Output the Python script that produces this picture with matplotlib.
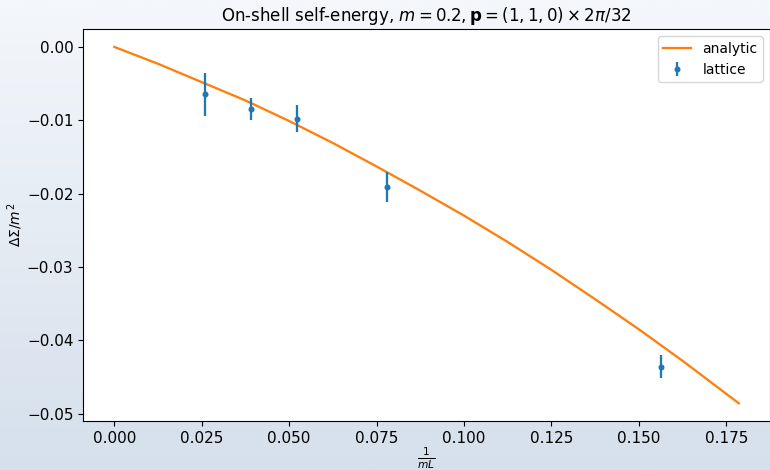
import numpy as np
import matplotlib
matplotlib.use('Agg')
import matplotlib.pyplot as plt
from matplotlib.colors import LinearSegmentedColormap

# lattice data, x = 1/(mL)
x_lat = [0.0260, 0.0391, 0.0521, 0.0781, 0.1563]
y_lat = [-0.00645, -0.00845, -0.00976, -0.0191, -0.0436]
err_lat = [0.0029, 0.0015, 0.0018, 0.0021, 0.0016]

# analytic curve
x_an = [0.0, 0.0125, 0.025, 0.0375, 0.05, 0.0625, 0.075, 0.0875, 0.1,
        0.1125, 0.125, 0.1375, 0.15, 0.1625, 0.1786]
y_an = [0.0, -0.0023, -0.0048, -0.0073, -0.0101, -0.0131, -0.0163,
        -0.0196, -0.0230, -0.0266, -0.0304, -0.0344, -0.0385, -0.0428, -0.0486]

plt.rcParams['font.size'] = 11
plt.rcParams['lines.linewidth'] = 1.65
plt.rcParams['lines.markersize'] = 6.6

fig = plt.figure(figsize=(7.7, 4.7), dpi=100)

# gradient background
bg = fig.add_axes([0, 0, 1, 1], zorder=-10)
cmap = LinearSegmentedColormap.from_list('bg', ['#f4f7fb', '#d5e0ec'])
bg.imshow(np.linspace(0, 1, 256).reshape(-1, 1), aspect='auto', cmap=cmap,
          extent=[0, 1, 0, 1])
bg.axis('off')

ax = fig.add_axes([0.108, 0.104, 0.892, 0.834])
ax.plot(x_an, y_an, color='C1', label='analytic')
ax.errorbar(x_lat, y_lat, yerr=err_lat, fmt='.', color='C0', label='lattice')

ax.set_title(r'On-shell self-energy, $m = 0.2, \mathbf{p} = (1,1,0)\times 2\pi/32$', fontsize=12)
ax.set_xlabel(r'$\frac{1}{mL}$', labelpad=0)
ax.set_ylabel(r'$\Delta\Sigma/m^2$', fontsize=10, labelpad=1)
ax.legend(loc='upper right', fontsize=10)

fig.savefig('out.png', dpi=100)
